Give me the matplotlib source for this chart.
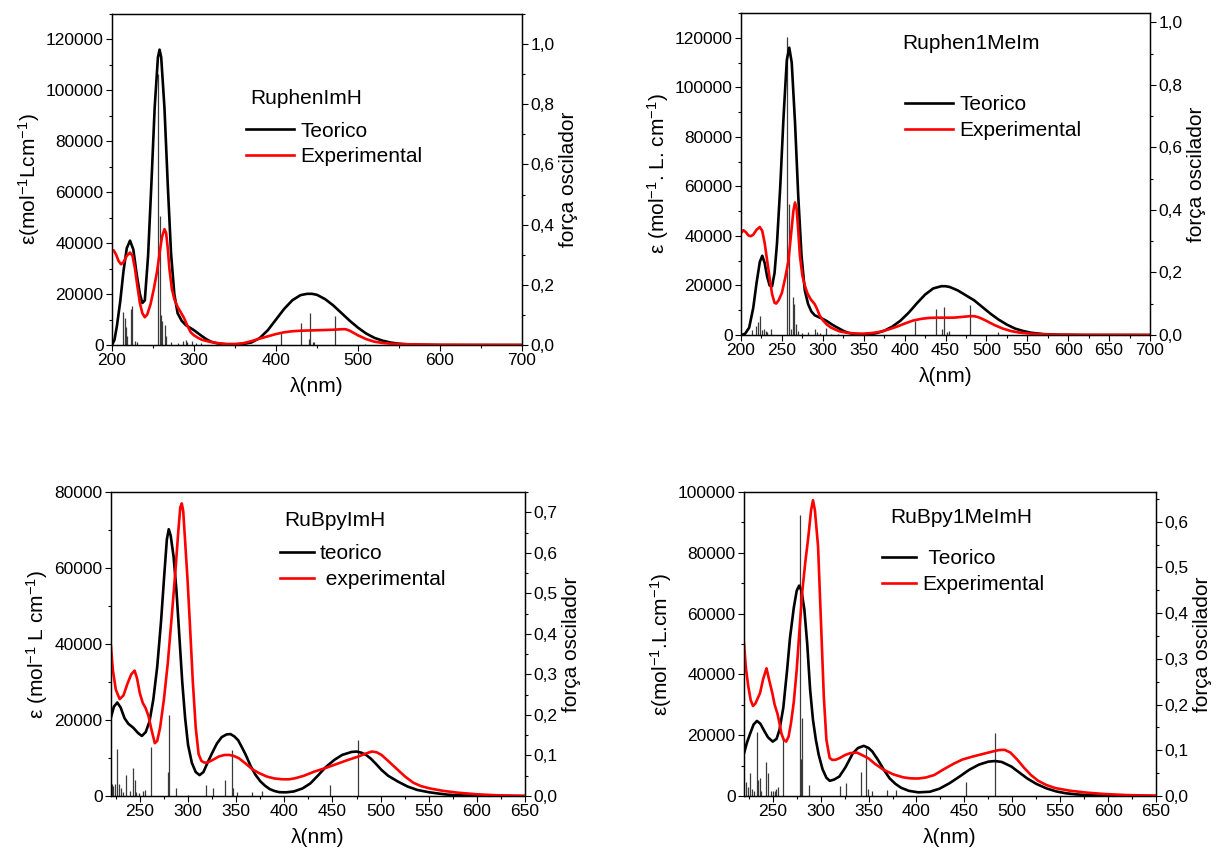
import numpy as np
import matplotlib.pyplot as plt
from matplotlib.ticker import MultipleLocator, FuncFormatter

plt.rcParams['font.family'] = 'Liberation Sans'
plt.rcParams['mathtext.fontset'] = 'custom'
plt.rcParams['mathtext.rm'] = 'Liberation Sans'
plt.rcParams['mathtext.it'] = 'Liberation Sans'

# ---------------- RuphenImH ----------------
p1_teo_lam = [200, 203, 206, 210, 214, 218, 222, 226, 230, 234, 237, 240, 244, 248, 252, 256, 258,
              260, 264, 268, 272, 276, 280, 285, 290, 295, 300, 305, 310, 315, 320, 325, 330, 340,
              350, 360, 370, 380, 390, 400, 410, 420, 430, 438, 444, 450, 460, 470, 480, 490, 500,
              510, 520, 530, 540, 550, 560, 575, 600, 700]
p1_teo_eps = [0, 2000, 7500, 17000, 29000, 38000, 41000, 37500, 28000, 20000, 16500, 17500, 35000,
              63000, 93000, 113000, 116000, 113000, 93000, 63000, 36000, 20000, 12500, 9500, 7800,
              6800, 5800, 4600, 3400, 2300, 1400, 900, 550, 250, 200, 400, 1000, 2700, 5800, 10000,
              14200, 17600, 19600, 20100, 20100, 19700, 18000, 15500, 12500, 9500, 6800, 4500, 2800,
              1700, 950, 500, 250, 100, 0, 0]
p1_exp_lam = [200, 202, 205, 208, 211, 214, 218, 222, 225, 228, 231, 234, 237, 240, 243, 247, 251,
              255, 258, 261, 264, 266, 268, 270, 273, 276, 280, 284, 288, 292, 296, 300, 305, 310,
              320, 330, 340, 350, 360, 370, 380, 390, 400, 410, 420, 430, 440, 450, 460, 470, 480,
              485, 490, 495, 500, 510, 520, 530, 540, 560, 580, 600, 650, 700]
p1_exp_eps = [36700, 37200, 35500, 33000, 31700, 32500, 35000, 36300, 35000, 30000, 23000, 16500,
              12500, 10900, 12000, 16000, 22000, 29000, 36000, 42500, 45500, 44000, 38000, 30000,
              22000, 18000, 15000, 12800, 10500, 7500, 5000, 3800, 2800, 2000, 1200, 700, 400, 400,
              700, 1500, 2500, 3400, 4300, 5000, 5400, 5600, 5700, 5800, 5900, 6000, 6200, 6200,
              5600, 4700, 3800, 2300, 1300, 800, 500, 300, 150, 80, 20, 0]
p1_stick_lam = [213.8, 215.5, 217, 218.5, 222.8, 224.8, 228, 231, 256.5, 258, 259.5, 261, 264.6,
                266, 272, 280, 287, 290, 292, 298, 303, 308, 406, 430.5, 440, 441, 445, 446, 472, 508]
p1_stick_f = [0.11, 0.09, 0.06, 0.03, 0.12, 0.13, 0.012, 0.01, 0.9, 0.43, 0.10, 0.08, 0.066,
              0.03, 0.01, 0.006, 0.012, 0.015, 0.01, 0.012, 0.008, 0.006, 0.041, 0.074, 0.02,
              0.108, 0.01, 0.01, 0.096, 0.004]

# ---------------- Ruphen1MeIm ----------------
p2_teo_lam = [200, 205, 210, 215, 219, 223, 226, 229, 232, 235, 238, 241, 244, 248, 252, 256, 259,
              262, 266, 270, 274, 278, 282, 286, 290, 295, 300, 305, 310, 315, 320, 325, 330, 335,
              345, 355, 365, 375, 385, 395, 405, 415, 425, 435, 445, 450, 455, 465, 475, 485, 495,
              505, 515, 525, 535, 545, 555, 570, 590, 620, 700]
p2_teo_eps = [0, 500, 3000, 11000, 21000, 29500, 32000, 29000, 23500, 20000, 19700, 25000, 37000,
              60000, 88000, 111000, 116000, 110000, 86000, 56000, 32000, 18000, 12500, 9500, 8000,
              7200, 6500, 5600, 4500, 3500, 2600, 1700, 1000, 600, 250, 300, 700, 1700, 3400, 5800,
              9000, 12800, 16300, 18800, 19700, 19700, 19400, 18000, 16000, 14000, 11300, 8600,
              6200, 4200, 2600, 1600, 900, 350, 100, 0, 0]
p2_exp_lam = [200, 203, 206, 209, 212, 215, 219, 223, 226, 229, 232, 235, 238, 241, 243, 246, 250,
              254, 258, 261, 264, 266, 268, 270, 272, 275, 278, 281, 285, 290, 293, 296, 300, 305,
              310, 320, 330, 340, 350, 360, 370, 380, 390, 400, 410, 420, 430, 440, 450, 460, 470,
              480, 485, 490, 495, 500, 510, 520, 530, 540, 555, 580, 620, 700]
p2_exp_eps = [41200, 42300, 41500, 40200, 39900, 40500, 42500, 43600, 42000, 37000, 30000, 23000,
              16500, 13000, 12700, 14000, 17000, 23000, 30000, 40000, 50000, 53500, 51000, 42000,
              32000, 24000, 20000, 17000, 14500, 12500, 10500, 8000, 6000, 4200, 3000, 1500, 900,
              600, 550, 800, 1300, 2200, 3300, 4600, 5800, 6500, 6900, 7000, 7000, 7000, 7300, 7600,
              7600, 7200, 6500, 5700, 4000, 2600, 1600, 1000, 500, 150, 50, 0]
p2_stick_lam = [214, 218.5, 221, 223.5, 226, 228, 230, 232, 236.5, 256.5, 259, 261, 263, 265.4,
                267, 270, 274, 282, 291, 293, 296, 304, 310, 318, 412.5, 438.5, 446, 448, 452,
                454, 480.3, 514]
p2_stick_f = [0.015, 0.03, 0.04, 0.06, 0.015, 0.02, 0.012, 0.01, 0.02, 0.953, 0.42, 0.02, 0.12,
              0.098, 0.035, 0.012, 0.006, 0.01, 0.018, 0.01, 0.006, 0.023, 0.004, 0.004, 0.045,
              0.084, 0.02, 0.09, 0.01, 0.012, 0.096, 0.008]

# ---------------- RuBpyImH ----------------
p3_teo_lam = [220, 223, 226.5, 230, 234, 238, 243, 248, 252, 256, 260, 264, 268, 272, 275, 278, 280,
              282, 285, 288, 291, 294, 297, 300, 304, 308, 312, 316, 320, 325, 330, 335, 340, 344,
              348, 352, 356, 360, 365, 370, 375, 380, 385, 390, 395, 402, 410, 419, 427, 435, 443,
              452, 460, 470, 475, 480, 485, 490, 495, 501, 508, 518, 528, 538, 550, 560, 570, 580,
              600, 650]
p3_teo_eps = [20700, 23500, 24600, 23300, 20500, 19000, 18000, 16600, 15800, 16800, 19600, 25500,
              34000, 46000, 57000, 67500, 70200, 68500, 63000, 54000, 42000, 30000, 20500, 13500,
              8700, 6300, 5500, 6300, 8600, 11300, 13800, 15500, 16200, 16300, 15700, 14700, 12800,
              10800, 7900, 5600, 3900, 2700, 1800, 1300, 1000, 970, 1200, 2000, 3300, 5400, 7600,
              9500, 10800, 11600, 11700, 11400, 10800, 9800, 8500, 6850, 5300, 3800, 2500, 1600,
              1000, 650, 350, 200, 50, 0]
p3_exp_lam = [220, 222, 225, 229, 233, 237, 241, 244.5, 247, 250, 253, 256, 259, 262, 265.5, 268,
              271, 275, 279, 283, 287, 290, 292, 293.5, 295, 297, 299.5, 302, 305, 308, 311, 314,
              317, 320, 325, 332, 338, 343, 348, 353, 360, 367, 374, 382, 390, 398, 405, 411, 420,
              431, 442, 452, 464, 477, 485, 491, 496, 501, 508, 518, 526, 534, 542, 551, 565, 580,
              600, 621, 650]
p3_exp_eps = [39300, 33000, 28000, 25500, 26500, 29500, 32000, 33000, 31000, 27000, 24500, 23100,
              21000, 17500, 13900, 14500, 18000, 25500, 35000, 47000, 59500, 70000, 76000, 77000,
              75000, 67000, 56900, 45000, 30000, 18000, 11000, 9200, 8800, 8800, 9400, 10400, 10800,
              10800, 10500, 9900, 8500, 7000, 6000, 5100, 4600, 4400, 4400, 4650, 5300, 6400, 7300,
              8200, 9300, 10400, 11200, 11700, 11500, 10800, 9200, 6850, 5000, 3500, 2600, 2000,
              1350, 880, 450, 180, 0]
p3_stick_lam = [221, 222.5, 224, 226.5, 228, 230, 232, 236, 240, 243, 244.5, 246, 249, 253, 255,
                261.5, 279.5, 280.5, 288, 300, 319, 325.5, 338.7, 345.3, 347, 351, 366, 376.6,
                447, 476.8]
p3_stick_f = [0.03, 0.025, 0.03, 0.115, 0.03, 0.02, 0.01, 0.052, 0.012, 0.07, 0.04, 0.01, 0.008,
              0.012, 0.014, 0.12, 0.06, 0.2, 0.019, 0.003, 0.027, 0.019, 0.039, 0.113, 0.02, 0.01,
              0.011, 0.012, 0.027, 0.138]

# ---------------- RuBpy1MeImH ----------------
p4_teo_lam = [220, 223, 226.5, 230, 233.5, 237, 241, 245, 250, 254, 257, 261, 265, 268, 272, 275,
              277.5, 280, 283, 286, 289, 292, 295, 298, 302, 306, 309.5, 314, 319.5, 326, 333.5,
              339, 345, 350, 354, 360, 366, 372, 378, 384, 392, 402, 414, 424, 434.5, 445, 455,
              465, 475, 482, 489, 499, 507, 515.5, 525, 535.7, 546, 556, 566, 576, 600, 650]
p4_teo_eps = [14000, 17500, 20600, 23500, 24700, 23800, 21500, 19300, 17900, 18800, 21700, 29000,
              41500, 52000, 62000, 67500, 69200, 67500, 61300, 50000, 35000, 25000, 18500, 13500,
              8800, 6000, 5000, 5400, 6400, 9500, 14000, 15800, 16500, 15800, 14600, 11800, 8600,
              5800, 4000, 2700, 1700, 1200, 1400, 2400, 4200, 6400, 8600, 10300, 11300, 11500, 11200,
              9700, 7800, 5800, 4000, 2500, 1500, 900, 550, 330, 80, 0]
p4_exp_lam = [220, 222, 224.5, 227, 229.4, 232, 236.7, 240, 243.5, 246, 249.6, 252, 254.8, 257,
              259, 261.5, 264, 266.5, 269, 272, 275, 278, 281, 284, 287.2, 290, 292, 294, 297.3,
              300, 303.3, 306, 309.4, 312, 315.5, 320, 325.6, 331, 337.7, 343, 349.8, 357, 366,
              376, 386, 394, 402, 410, 418.5, 428, 438.7, 448, 458.9, 469, 479, 486, 492, 498,
              505.4, 512, 519.5, 527, 535.7, 545, 560, 578, 596, 620, 650]
p4_exp_eps = [50300, 42000, 36000, 31500, 29600, 30500, 33800, 38500, 42000, 38500, 33800, 30000,
              27200, 24000, 20600, 18500, 17900, 19500, 23900, 31000, 41500, 55000, 67800, 77000,
              85400, 94000, 97300, 94000, 82100, 60000, 32700, 18500, 12500, 11900, 11900, 12500,
              13500, 14100, 14300, 13500, 12400, 10500, 8560, 7100, 6150, 5800, 5750, 6100, 6900,
              8700, 10600, 12000, 13000, 13800, 14600, 15100, 15200, 14300, 11900, 9400, 6900,
              5000, 3600, 2600, 1750, 1100, 660, 300, 100]
p4_stick_lam = [222.5, 224.5, 226.6, 228, 230.5, 233.4, 235, 236.5, 238, 243, 244.7, 248, 250,
                252, 253.5, 255.5, 261, 278.3, 279.3, 280.7, 288, 320.3, 326.8, 341.7, 347, 349.5,
                354, 369, 379, 451.6, 482.3]
p4_stick_f = [0.03, 0.02, 0.05, 0.015, 0.012, 0.14, 0.035, 0.039, 0.01, 0.075, 0.05, 0.01, 0.01,
              0.012, 0.016, 0.02, 0.126, 0.615, 0.08, 0.17, 0.024, 0.022, 0.028, 0.053, 0.106,
              0.015, 0.012, 0.013, 0.013, 0.031, 0.137]

panels = [
    dict(rect=[112, 14, 522, 345], xlim=(200, 700), xmaj=100, xmin=50, ylim=130000, flim=1.1,
         fmaj=0.2, fmin=0.1, teo=(p1_teo_lam, p1_teo_eps), exp=(p1_exp_lam, p1_exp_eps),
         sticks=(p1_stick_lam, p1_stick_f), ylabel=r'ε(mol$^{-1}$Lcm$^{-1}$)',
         name='RuphenImH', name_xy=(0.337, 0.746), leg_xy=(0.327, 0.675),
         labels=['Teorico', 'Experimental'], hlen=2.3),
    dict(rect=[741, 13, 1150, 335], xlim=(200, 700), xmaj=50, xmin=25, ylim=130000, flim=1.03,
         fmaj=0.2, fmin=0.1, teo=(p2_teo_lam, p2_teo_eps), exp=(p2_exp_lam, p2_exp_eps),
         sticks=(p2_stick_lam, p2_stick_f), ylabel=r'ε (mol$^{-1}$. L. cm$^{-1}$)',
         name='Ruphen1MeIm', name_xy=(0.394, 0.905), leg_xy=(0.401, 0.745),
         labels=['Teorico', 'Experimental'], hlen=2.3),
    dict(rect=[111, 492, 525, 796], xlim=(220, 650), xmaj=50, xmin=25, ylim=80000, flim=0.75,
         fmaj=0.1, fmin=0.05, teo=(p3_teo_lam, p3_teo_eps), exp=(p3_exp_lam, p3_exp_eps),
         sticks=(p3_stick_lam, p3_stick_f), ylabel=r'ε (mol$^{-1}$ L cm$^{-1}$)',
         name='RuBpyImH', name_xy=(0.419, 0.905), leg_xy=(0.409, 0.828),
         labels=['teorico', ' experimental'], hlen=1.6),
    dict(rect=[744, 492, 1156, 796], xlim=(220, 650), xmaj=50, xmin=25, ylim=100000, flim=0.665,
         fmaj=0.1, fmin=0.05, teo=(p4_teo_lam, p4_teo_eps), exp=(p4_exp_lam, p4_exp_eps),
         sticks=(p4_stick_lam, p4_stick_f), ylabel=r'ε(mol$^{-1}$.L.cm$^{-1}$)',
         name='RuBpy1MeImH', name_xy=(0.354, 0.915), leg_xy=(0.335, 0.812),
         labels=[' Teorico', 'Experimental'], hlen=1.65),
]

W, H = 1226, 856
fig = plt.figure(figsize=(W / 100, H / 100), dpi=100)

comma = FuncFormatter(lambda v, p: f'{v:.1f}'.replace('.', ','))

for p in panels:
    x0, y0, x1, y1 = p['rect']
    ax = fig.add_axes([x0 / W, 1 - y1 / H, (x1 - x0) / W, (y1 - y0) / H])
    ax2 = ax.twinx()
    ax.set_zorder(ax2.get_zorder() + 1)
    ax.patch.set_visible(False)

    # oscillator strengths as sticks on the right axis
    ax2.vlines(p['sticks'][0], 0, p['sticks'][1], color='#3a3a3a', lw=0.9)

    ax.plot(*p['teo'], color='black', lw=1.9, label=p['labels'][0])
    ax.plot(*p['exp'], color='#ff0000', lw=1.9, label=p['labels'][1])

    ax.set_xlim(*p['xlim'])
    ax.set_ylim(0, p['ylim'])
    ax2.set_ylim(0, p['flim'])

    ax.xaxis.set_major_locator(MultipleLocator(p['xmaj']))
    ax.xaxis.set_minor_locator(MultipleLocator(p['xmin']))
    ax.yaxis.set_major_locator(MultipleLocator(20000))
    ax.yaxis.set_minor_locator(MultipleLocator(10000))
    ax2.yaxis.set_major_locator(MultipleLocator(p['fmaj']))
    ax2.yaxis.set_minor_locator(MultipleLocator(p['fmin']))
    ax2.yaxis.set_major_formatter(comma)

    for a in (ax, ax2):
        a.tick_params(which='major', length=4, width=0.8, labelsize=12.5, pad=2)
        a.tick_params(which='minor', length=2.5, width=0.8)
        for s in a.spines.values():
            s.set_linewidth(0.9)

    ax.set_xlabel('λ(nm)', fontsize=15, labelpad=6)
    ax.set_ylabel(p['ylabel'], fontsize=15, labelpad=3)
    ax2.set_ylabel('força oscilador', fontsize=15, labelpad=3)

    ax.text(*p['name_xy'], p['name'], transform=ax.transAxes, fontsize=15, va='center')
    ax.legend(loc='upper left', bbox_to_anchor=p['leg_xy'], frameon=False, fontsize=15,
              borderpad=0, borderaxespad=0, handlelength=p['hlen'], handletextpad=0.3,
              labelspacing=0.33)

fig.savefig('out.png', dpi=100)
